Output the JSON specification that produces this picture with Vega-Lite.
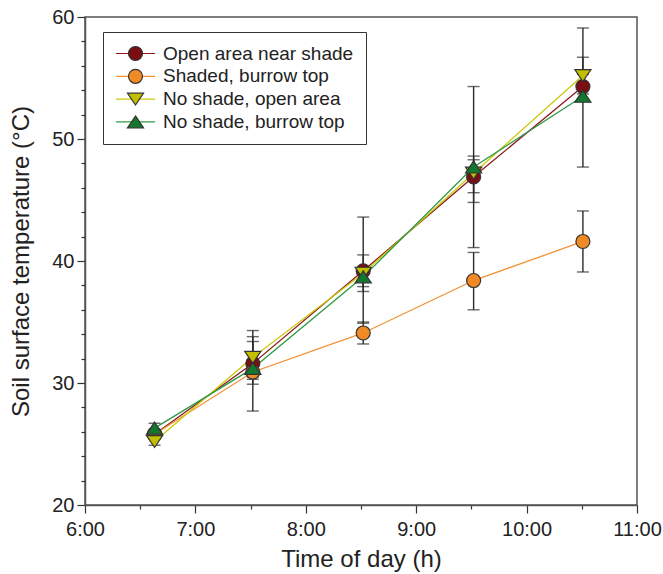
{
  "$schema": "https://vega.github.io/schema/vega-lite/v6.json",
  "width": 552,
  "height": 488,
  "autosize": {"type": "none"},
  "padding": {"left": 85, "top": 17, "right": 26, "bottom": 69},
  "background": "white",
  "config": {
    "font": "Liberation Sans",
    "view": {"stroke": "#555", "strokeWidth": 1.5},
    "axis": {
      "domainColor": "#555", "domainWidth": 1.5,
      "tickColor": "#333", "tickWidth": 1.2,
      "labelFont": "Liberation Sans", "labelFontSize": 20, "labelColor": "#222",
      "titleFont": "Liberation Sans", "titleFontSize": 24, "titleFontWeight": "normal", "titleColor": "#222",
      "grid": false, "labelOverlap": false
    },
    "legend": {"labelLimit": 400}
  },
  "data": {
    "values": [
      {"s": "Open area near shade", "t": 6.63, "v": 25.8, "lo": 25.4, "hi": 26.2},
      {"s": "Open area near shade", "t": 7.52, "v": 31.6, "lo": 29.9, "hi": 33.4},
      {"s": "Open area near shade", "t": 8.52, "v": 39.2, "lo": 34.9, "hi": 43.6},
      {"s": "Open area near shade", "t": 9.52, "v": 46.9, "lo": 45.6, "hi": 48.6},
      {"s": "Open area near shade", "t": 10.51, "v": 54.3, "lo": 53.3, "hi": 55.3},
      {"s": "Shaded, burrow top", "t": 6.63, "v": 25.8, "lo": 25.5, "hi": 26.1},
      {"s": "Shaded, burrow top", "t": 7.52, "v": 30.9, "lo": 27.7, "hi": 34.3},
      {"s": "Shaded, burrow top", "t": 8.52, "v": 34.1, "lo": 33.2, "hi": 35.0},
      {"s": "Shaded, burrow top", "t": 9.52, "v": 38.4, "lo": 36.0, "hi": 40.7},
      {"s": "Shaded, burrow top", "t": 10.51, "v": 41.6, "lo": 39.1, "hi": 44.1},
      {"s": "No shade, open area", "t": 6.63, "v": 25.2, "lo": 24.9, "hi": 25.5},
      {"s": "No shade, open area", "t": 7.52, "v": 32.1, "lo": 30.3, "hi": 33.8},
      {"s": "No shade, open area", "t": 8.52, "v": 39.0, "lo": 37.5, "hi": 40.5},
      {"s": "No shade, open area", "t": 9.52, "v": 47.2, "lo": 44.8, "hi": 48.3},
      {"s": "No shade, open area", "t": 10.51, "v": 55.2, "lo": 53.7, "hi": 56.7},
      {"s": "No shade, burrow top", "t": 6.63, "v": 26.3, "lo": 25.9, "hi": 26.7},
      {"s": "No shade, burrow top", "t": 7.52, "v": 31.2, "lo": 30.5, "hi": 31.9},
      {"s": "No shade, burrow top", "t": 8.52, "v": 38.7, "lo": 37.9, "hi": 39.4},
      {"s": "No shade, burrow top", "t": 9.52, "v": 47.7, "lo": 41.1, "hi": 54.3},
      {"s": "No shade, burrow top", "t": 10.51, "v": 53.5, "lo": 47.7, "hi": 59.1}
    ]
  },
  "resolve": {"axis": {"y": "independent"}},
  "layer": [
    {
      "mark": {"type": "line", "strokeWidth": 1.3},
      "encoding": {
        "x": {
          "field": "t", "type": "quantitative", "title": "Time of day (h)",
          "scale": {"domain": [6, 11], "nice": false, "zero": false},
          "axis": {
            "values": [6, 6.25, 6.5, 6.75, 7, 7.25, 7.5, 7.75, 8, 8.25, 8.5, 8.75, 9, 9.25, 9.5, 9.75, 10, 10.25, 10.5, 10.75, 11],
            "labelExpr": "datum.value % 1 === 0 ? datum.value + ':00' : ''",
            "tickSize": {"condition": {"test": "datum.value % 1 === 0", "value": 8}, "value": 4},
            "labelPadding": 6, "labelOverlap": false, "labelFlush": false, "labelBound": false,
            "titlePadding": 8
          }
        },
        "y": {
          "field": "v", "type": "quantitative", "title": "Soil surface temperature (°C)",
          "scale": {"domain": [20, 60], "nice": false, "zero": false},
          "axis": {
            "orient": "left",
            "values": [20, 30, 40, 50, 60],
            "tickSize": 8,
            "labelPadding": 3, "labelOverlap": false, "labelBound": false,
            "titlePadding": 18
          }
        },
        "stroke": {
          "field": "s", "type": "nominal",
          "sort": ["Open area near shade", "Shaded, burrow top", "No shade, open area", "No shade, burrow top"],
          "scale": {"range": ["#8B1A1A", "#F39236", "#CCC80A", "#2E9A45"]},
          "legend": {
            "title": null, "orient": "none", "legendX": 18, "legendY": 15,
            "symbolType": "M-2.8,0H2.8", "symbolSize": 196, "symbolStrokeWidth": 1.2,
            "labelFont": "Liberation Sans", "labelFontSize": 19, "labelColor": "#222", "labelLimit": 400,
            "padding": 12, "rowPadding": 2.8, "symbolOffset": 11, "labelOffset": 18,
            "strokeColor": "#333", "fillColor": "white"
          }
        }
      }
    },
    {
      "mark": {"type": "errorbar", "ticks": {"size": 12, "thickness": 1.4, "color": "#2a2a2a"}, "thickness": 1.4, "color": "#2a2a2a"},
      "encoding": {
        "x": {"field": "t", "type": "quantitative", "title": "Time of day (h)"},
        "y": {"field": "lo", "type": "quantitative", "axis": null},
        "y2": {"field": "hi"}
      }
    },
    {
      "mark": {"type": "point", "filled": true, "size": 196, "stroke": "#333", "strokeWidth": 1.2, "opacity": 1},
      "encoding": {
        "x": {"field": "t", "type": "quantitative", "title": "Time of day (h)"},
        "y": {
          "field": "v", "type": "quantitative",
          "axis": {
            "orient": "left", "title": null, "labels": false, "domain": false,
            "values": [22, 24, 26, 28, 32, 34, 36, 38, 42, 44, 46, 48, 52, 54, 56, 58],
            "tickSize": 4
          }
        },
        "fill": {
          "field": "s", "type": "nominal",
          "scale": {"domain": ["Open area near shade", "Shaded, burrow top", "No shade, open area", "No shade, burrow top"], "range": ["#7A0E12", "#F08A24", "#C2BF00", "#13782E"]},
          "legend": {
            "title": null, "orient": "none", "legendX": 18, "legendY": 15, "zindex": 2,
            "symbolSize": 196, "symbolStrokeWidth": 1.2, "symbolStrokeColor": "#333", "symbolOpacity": 1,
            "labelFont": "Liberation Sans", "labelFontSize": 19, "labelOpacity": 0, "labelLimit": 400,
            "padding": 12, "rowPadding": 2.8, "symbolOffset": 11, "labelOffset": 18,
            "encode": {"symbols": {"update": {"stroke": {"value": "#333"}, "strokeWidth": {"value": 1.2}}}}
          }
        },
        "shape": {
          "field": "s", "type": "nominal",
          "scale": {"domain": ["Open area near shade", "Shaded, burrow top", "No shade, open area", "No shade, burrow top"], "range": ["circle", "circle", "M-1.15,-0.85L1.15,-0.85L0,0.85Z", "M0,-0.85L1.15,0.85L-1.15,0.85Z"]},
          "legend": {
            "title": null, "orient": "none", "legendX": 18, "legendY": 15, "zindex": 2,
            "symbolSize": 196, "symbolStrokeWidth": 1.2, "symbolStrokeColor": "#333", "symbolOpacity": 1,
            "labelFont": "Liberation Sans", "labelFontSize": 19, "labelOpacity": 0, "labelLimit": 400,
            "padding": 12, "rowPadding": 2.8, "symbolOffset": 11, "labelOffset": 18,
            "encode": {"symbols": {"update": {"stroke": {"value": "#333"}, "strokeWidth": {"value": 1.2}}}}
          }
        }
      }
    }
  ]
}
